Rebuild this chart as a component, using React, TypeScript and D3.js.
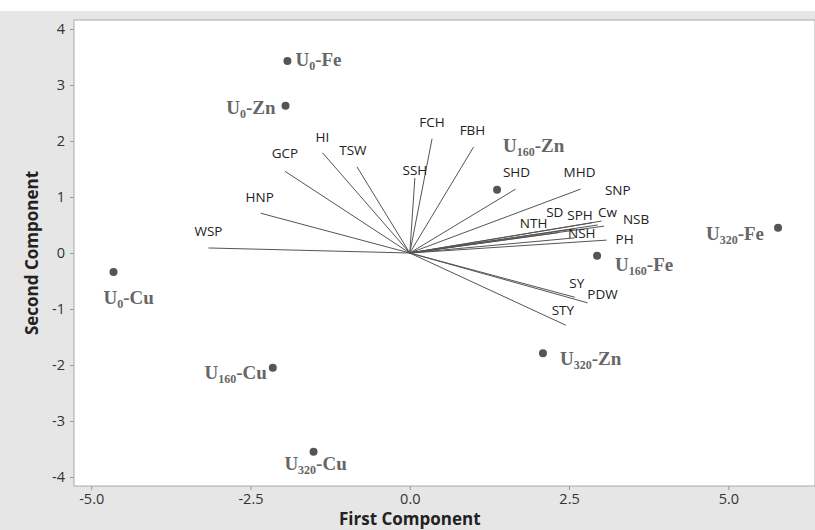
import React, { useEffect, useRef } from 'react';
import * as d3 from 'd3';

// PCA biplot: treatment scores (points) and trait loadings (vectors)
const sampleDose = ['0', '0', '0', '160', '160', '160', '320', '320', '320'];
const sampleMetal = ['Fe', 'Zn', 'Cu', 'Zn', 'Fe', 'Cu', 'Zn', 'Fe', 'Cu'];
const sampleX = [-1.92, -1.95, -4.65, 1.37, 2.94, -2.15, 2.09, 5.78, -1.51];
const sampleY = [3.43, 2.63, -0.34, 1.13, -0.05, -2.05, -1.79, 0.45, -3.55];

const traitNames = ['WSP', 'HNP', 'GCP', 'HI', 'TSW', 'SSH', 'FCH', 'FBH', 'SHD', 'MHD', 'SNP',
	'NTH', 'SD', 'SPH', 'Cw', 'NSB', 'NSH', 'PH', 'SY', 'PDW', 'STY'];
const traitX = [-3.16, -2.34, -1.96, -1.37, -0.83, 0.08, 0.35, 1.0, 1.66, 2.68, 2.95,
	2.32, 2.59, 2.86, 3.01, 3.05, 2.59, 3.09, 2.59, 2.79, 2.45];
const traitY = [0.09, 0.71, 1.46, 1.79, 1.54, 1.34, 2.04, 1.89, 1.14, 1.14, 0.5,
	0.36, 0.43, 0.54, 0.57, 0.48, 0.27, 0.23, -0.79, -0.89, -1.29];

const xTicks = [-5, -2.5, 0, 2.5, 5];
const yTicks = [-4, -3, -2, -1, 0, 1, 2, 3, 4];

// label placement (px offsets from the vector tip / point)
const traitLabelOffset = [[0, -12], [-1, -11], [0, -13], [0, -11], [-4, -12], [0, -3], [0, -12], [-1, -12],
	[1, -12], [-1, -12], [20, -30], [-24, -5], [-20, -12], [-12, -3], [6, -4], [32, -2], [7, 0], [18, 4],
	[2, -9], [15, -4], [-3, -10]];
const sampleLabelPlace = [['start', 8, 5], ['end', -10, 8], ['start', -10, 32], ['start', 6, -38],
	['start', 18, 15], ['end', -6, 11], ['start', 17, 12], ['end', -14, 12], ['middle', 2, 18]];

export default function App() {
	const ref = useRef(null);

	useEffect(() => {
		document.body.style.margin = '0';
		if (ref.current) drawChart(ref.current);
	}, []);

	return <svg ref={ref} width={815} height={530} style={{ display: 'block' }} />;
}

const drawChart = (element) => {
	const width = 815;
	const height = 530;
	const plot = { left: 74, top: 20, right: 815, bottom: 486 };
	const sans = '"Open Sans", "Noto Sans", sans-serif';
	const hyphen = (f) => (d) => f(d).replace('\u2212', '-');

	const svg = d3.select(element);
	svg.selectAll('*').remove();

	svg.append('rect').attr('width', width).attr('height', height).attr('fill', '#fff');
	svg.append('rect').attr('y', 11).attr('width', width).attr('height', height - 11).attr('fill', '#e6e6e6');
	svg.append('rect')
		.attr('x', plot.left).attr('y', plot.top)
		.attr('width', plot.right - plot.left).attr('height', plot.bottom - plot.top)
		.attr('fill', '#fff').attr('stroke', '#aaa');

	const x = d3.scaleLinear().domain([-5.27, 6.36]).range([plot.left, plot.right]);
	const y = d3.scaleLinear().domain([-4.16, 4.16]).range([plot.bottom, plot.top]);

	const xAxis = svg.append('g')
		.attr('transform', `translate(0,${plot.bottom})`)
		.call(d3.axisBottom(x).tickValues(xTicks).tickSize(4).tickPadding(4).tickFormat(hyphen(d3.format('.1f'))));
	const yAxis = svg.append('g')
		.attr('transform', `translate(${plot.left},0)`)
		.call(d3.axisLeft(y).tickValues(yTicks).tickSize(4).tickPadding(5).tickFormat(hyphen(d3.format('d'))));
	[xAxis, yAxis].forEach((g) => {
		g.select('.domain').remove();
		g.selectAll('line').attr('stroke', '#999');
		g.selectAll('text').attr('fill', '#333').style('font-size', '14.5px').style('font-family', sans);
	});

	svg.append('text')
		.attr('x', x(0)).attr('y', 525)
		.attr('text-anchor', 'middle')
		.style('font-family', sans).style('font-size', '17px').style('font-weight', 'bold')
		.attr('fill', '#222')
		.text('First Component');
	svg.append('text')
		.attr('transform', `translate(38,${y(0)}) rotate(-90)`)
		.attr('text-anchor', 'middle')
		.style('font-family', sans).style('font-size', '17px').style('font-weight', 'bold')
		.attr('fill', '#222')
		.text('Second Component');

	// loading vectors
	const vec = svg.append('g');
	traitNames.forEach((name, i) => {
		vec.append('line')
			.attr('x1', x(0)).attr('y1', y(0))
			.attr('x2', x(traitX[i])).attr('y2', y(traitY[i]))
			.attr('stroke', '#555').attr('stroke-width', 1);
	});
	traitNames.forEach((name, i) => {
		vec.append('text')
			.attr('x', x(traitX[i]) + traitLabelOffset[i][0])
			.attr('y', y(traitY[i]) + traitLabelOffset[i][1])
			.attr('text-anchor', 'middle')
			.style('font-family', sans).style('font-size', '13.5px')
			.attr('fill', '#222')
			.text(name);
	});

	// treatment scores
	const pts = svg.append('g');
	sampleDose.forEach((dose, i) => {
		const px = x(sampleX[i]);
		const py = y(sampleY[i]);
		pts.append('circle').attr('cx', px).attr('cy', py).attr('r', 4).attr('fill', '#555');
		const [anchor, dx, dy] = sampleLabelPlace[i];
		const t = pts.append('text')
			.attr('x', px + dx).attr('y', py + dy)
			.attr('text-anchor', anchor)
			.style('font-family', '"Liberation Serif", "DejaVu Serif", serif')
			.style('font-size', '19px').style('font-weight', 'bold')
			.attr('fill', '#666');
		t.append('tspan').text('U');
		t.append('tspan').attr('dy', 4).style('font-size', '12px').text(dose);
		t.append('tspan').attr('dy', -4).text(`-${sampleMetal[i]}`);
	});
};
